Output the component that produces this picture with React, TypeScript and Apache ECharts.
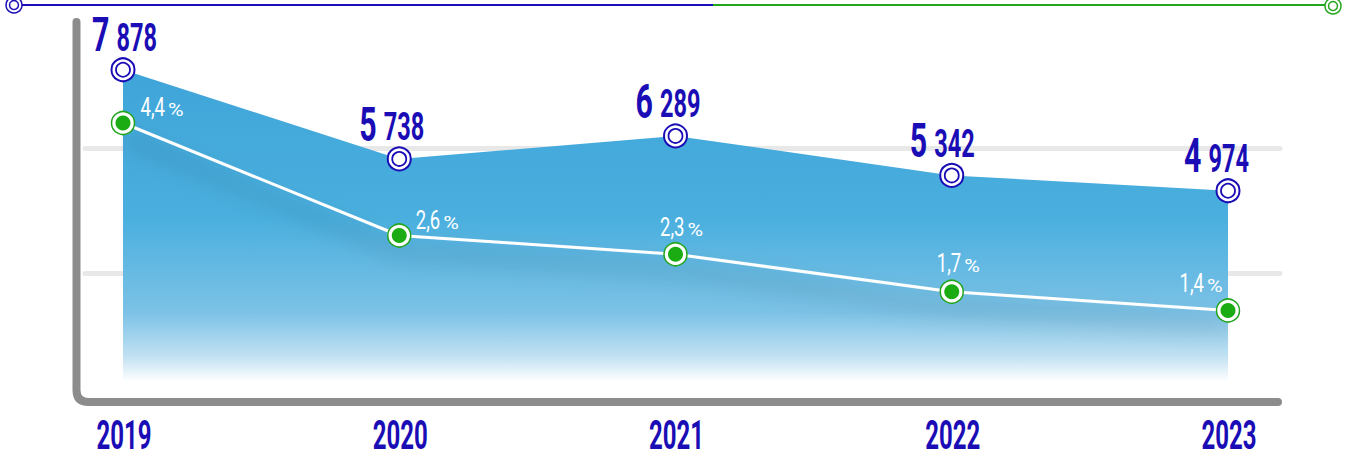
import React, { useEffect, useRef } from "react";
import * as echarts from "echarts";

const years = ["2019", "2020", "2021", "2022", "2023"];
const values = [7878, 5738, 6289, 5342, 4974];
const shares = [4.4, 2.6, 2.3, 1.7, 1.4];
const valueTicks = [0, 3000, 6000, 9000];
const shareRange = [0, 6];

const BLUE = "#1a0db5";
const GREEN = "#22a61e";
const FONT = "Roboto, 'Liberation Sans', sans-serif";

// label placement (style only)
const valueLabelDx = [2.5, -6.5, -6.5, -8.5, -10.5];
const shareLabelDx = [43.5, 42.5, 10.5, 11, -22.5];
const shareLabelDy = [-7, -6, -18, -20, -18];

const axisPath = "M 76.5 22 L 76.5 390 Q 76.5 402 88.5 402 L 1278 402";

export default function App() {
  const ref = useRef<HTMLDivElement>(null);
  useEffect(() => {
    if (!ref.current) return;
    try {
      echarts.graphic.registerShape(
        "axisframe",
        echarts.graphic.extendPath(axisPath, {}) as any
      );
    } catch (e) {}
    const chart = echarts.init(ref.current, null, { renderer: "svg" });

    const frame: any[] = [
      {
        type: "axisframe",
        x: 0,
        y: 0,
        z: 10,
        style: { stroke: "#8c8c8c", lineWidth: 8, fill: "none", lineCap: "round", lineJoin: "round" },
      },
      { type: "line", z: 10, shape: { x1: 22, y1: 5, x2: 713, y2: 5 }, style: { stroke: BLUE, lineWidth: 2 } },
      { type: "line", z: 10, shape: { x1: 713, y1: 5, x2: 1325, y2: 5 }, style: { stroke: GREEN, lineWidth: 2 } },
      { type: "circle", z: 11, shape: { cx: 14, cy: 5, r: 8 }, style: { fill: "#fff", stroke: BLUE, lineWidth: 1.5 } },
      { type: "circle", z: 11, shape: { cx: 14, cy: 5, r: 4.5 }, style: { fill: "#fff", stroke: BLUE, lineWidth: 1.5 } },
      { type: "circle", z: 11, shape: { cx: 1333, cy: 6, r: 8 }, style: { fill: "#fff", stroke: GREEN, lineWidth: 1.5 } },
      { type: "circle", z: 11, shape: { cx: 1333, cy: 6, r: 4.5 }, style: { fill: "#fff", stroke: GREEN, lineWidth: 1.5 } },
    ];

    const option: any = {
      animation: false,
      backgroundColor: "#ffffff",
      grid: [
        { left: 123, right: 126, top: 23, bottom: 61 },
        { left: 85, right: 74, top: 23, bottom: 61 },
      ],
      xAxis: [
        {
          type: "category",
          data: years,
          boundaryGap: false,
          gridIndex: 0,
          axisLine: { show: false },
          axisTick: { show: false },
          splitLine: { show: false },
          axisLabel: { show: false },
        },
        { type: "value", gridIndex: 1, min: 0, max: 1, show: false },
      ],
      yAxis: [
        { type: "value", gridIndex: 0, min: valueTicks[0], max: valueTicks[valueTicks.length - 1], show: false },
        { type: "value", gridIndex: 0, min: shareRange[0], max: shareRange[1], show: false },
        {
          type: "value",
          gridIndex: 1,
          min: valueTicks[0],
          max: valueTicks[valueTicks.length - 1],
          interval: valueTicks[1] - valueTicks[0],
          axisLine: { show: false },
          axisTick: { show: false },
          axisLabel: { show: false },
          splitLine: {
            show: true,
            lineStyle: {
              color: ["rgba(0,0,0,0)", "#e8e8e8", "#e8e8e8", "rgba(0,0,0,0)"],
              width: 5,
              cap: "round",
            },
          },
        },
      ],
      series: [
        {
          type: "line",
          xAxisIndex: 0,
          yAxisIndex: 0,
          data: values,
          z: 2,
          symbol: "circle",
          symbolSize: 23,
          itemStyle: { color: "#ffffff", borderColor: BLUE, borderWidth: 2 },
          lineStyle: { width: 0, opacity: 0 },
          areaStyle: {
            opacity: 1,
            color: new echarts.graphic.LinearGradient(0, 0, 0, 1, [
              { offset: 0, color: "#3fa5d9" },
              { offset: 0.45, color: "#4aafde" },
              { offset: 0.74, color: "#7cc2e6" },
              { offset: 0.87, color: "#bfe0f2" },
              { offset: 0.95, color: "#ffffff" },
              { offset: 1, color: "#ffffff" },
            ]),
          },
        },
        {
          type: "scatter",
          xAxisIndex: 0,
          yAxisIndex: 0,
          data: values,
          z: 5,
          silent: true,
          symbol: "circle",
          symbolSize: 14,
          itemStyle: { color: "#ffffff", borderColor: BLUE, borderWidth: 1.8, opacity: 1 },
        },
        {
          type: "line",
          xAxisIndex: 0,
          yAxisIndex: 1,
          data: shares,
          z: 4,
          symbol: "circle",
          symbolSize: 23,
          itemStyle: { color: "#ffffff", borderColor: GREEN, borderWidth: 1.5 },
          lineStyle: {
            color: "#ffffff",
            width: 3,
            shadowColor: "rgba(0,0,0,0.42)",
            shadowBlur: 22,
            shadowOffsetY: 16,
          },
        },
        {
          type: "scatter",
          xAxisIndex: 0,
          yAxisIndex: 1,
          data: shares,
          z: 6,
          silent: true,
          symbol: "circle",
          symbolSize: 15,
          itemStyle: { color: "#1aac12", opacity: 1 },
        },
      ],
      graphic: frame,
    };
    chart.setOption(option);

    const texts: any[] = [];
    values.forEach((v, i) => {
      const p = chart.convertToPixel({ seriesIndex: 0 }, [i, v]) as number[];
      const cx = p[0] + valueLabelDx[i];
      const base = p[1] - 18;
      const s = String(v);
      texts.push({
        type: "text",
        z: 20,
        x: cx - 16,
        y: base - 0.35 * 49,
        scaleX: 0.62,
        style: {
          text: s.slice(0, s.length - 3),
          fill: BLUE,
          fontFamily: FONT,
          fontWeight: "bold",
          fontSize: 49,
          align: "right",
          verticalAlign: "middle",
        },
      });
      texts.push({
        type: "text",
        z: 20,
        x: cx - 9,
        y: base - 0.35 * 38,
        scaleX: 0.62,
        style: {
          text: s.slice(-3),
          fill: BLUE,
          fontFamily: FONT,
          fontWeight: "bold",
          fontSize: 38,
          align: "left",
          verticalAlign: "middle",
        },
      });
    });
    shares.forEach((v, i) => {
      const p = chart.convertToPixel({ seriesIndex: 2 }, [i, v]) as number[];
      const gx = p[0] + shareLabelDx[i];
      const base = p[1] + shareLabelDy[i];
      texts.push({
        type: "text",
        z: 20,
        x: gx - 1.5,
        y: base - 0.35 * 25,
        scaleX: 0.74,
        style: {
          text: v.toFixed(1).replace(".", ","),
          fill: "#ffffff",
          fontFamily: FONT,
          fontSize: 25,
          align: "right",
          verticalAlign: "middle",
        },
      });
      texts.push({
        type: "text",
        z: 20,
        x: gx + 1.5,
        y: base - 0.35 * 19,
        scaleX: 1.12,
        style: {
          text: "%",
          fill: "#ffffff",
          fontFamily: FONT,
          fontSize: 19,
          align: "left",
          verticalAlign: "middle",
        },
      });
    });
    years.forEach((y, i) => {
      const p = chart.convertToPixel({ xAxisIndex: 0 }, i) as any;
      const x = typeof p === "number" ? p : p[0];
      texts.push({
        type: "text",
        z: 20,
        x: x + 1,
        y: 449 - 0.35 * 40,
        scaleX: 0.6,
        style: {
          text: y,
          fill: BLUE,
          fontFamily: FONT,
          fontWeight: "bold",
          fontSize: 40,
          align: "center",
          verticalAlign: "middle",
        },
      });
    });
    chart.setOption({ graphic: [...frame, ...texts] });
    return () => chart.dispose();
  }, []);
  return (
    <div
      ref={ref}
      style={{ position: "fixed", left: 0, top: 0, width: 1354, height: 459 }}
    />
  );
}
